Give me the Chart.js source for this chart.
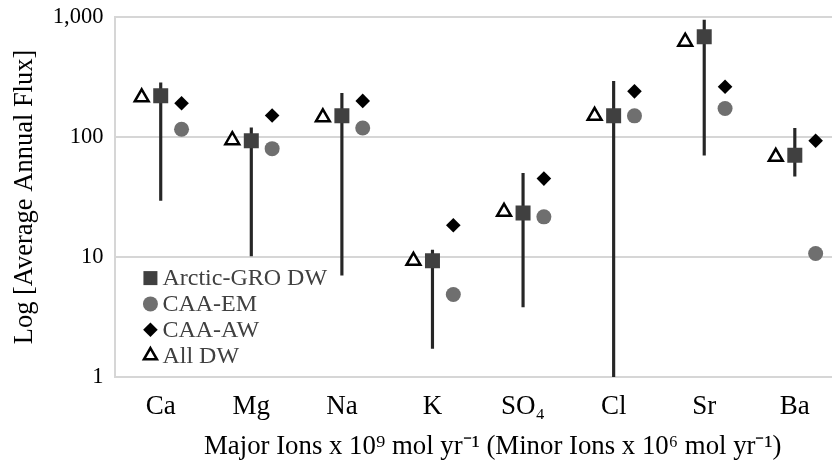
<!DOCTYPE html>
<html>
<head>
<meta charset="utf-8">
<script src="https://cdn.jsdelivr.net/npm/chart.js@4/dist/chart.umd.min.js"></script>
<style>
  html, body { margin: 0; padding: 0; background: #fff; overflow: hidden; }
  /* the plot runs past the right edge of the picture, so the canvas is wider than the window */
  #wrap { width: 870px; height: 463px; }
</style>
</head>
<body>
<div id="wrap"><canvas id="fluxChart"></canvas></div>
<script>
// Categories and values
const categories = ['Ca', 'Mg', 'Na', 'K', 'SO\u2084', 'Cl', 'Sr', 'Ba'];
const arcticGroDW = [221, 93, 150, 9.3, 23.3, 150, 685, 70.6];
const arcticGroLow = [29.6, 10.2, 7.05, 1.73, 3.84, 1, 70.6, 47.2];
const arcticGroHigh = [283, 119, 231, 11.4, 49.7, 291, 944, 118];
const caaEM = [116, 80, 119, 4.87, 21.6, 150, 173, 10.7];
const caaAW = [191, 151, 200, 18.4, 45, 240, 262, 93];
const allDW = [214, 94, 146, 9.3, 23.8, 150, 622, 68.4];
const yTicks = [1, 10, 100, 1000];

// horizontal shift of the side markers inside a category (in category units)
const leftShift = -0.21;
const rightShift = 0.23;

const serif = "'Liberation Serif', 'Times New Roman', serif";

function points(values, shift) {
    return values.map((v, i) => ({ x: i + shift, y: v }));
}

// legend drawn inside the plot, bottom-left corner
const innerLegend = {
    id: 'innerLegend',
    afterDatasetsDraw(chart) {
        const c = chart.ctx;
        const area = chart.chartArea;
        const items = chart.data.datasets.filter(d => d.type !== 'bar');
        const rowGap = 25.8;
        const markX = area.left + 35;
        let y = area.bottom - 21.5 - rowGap * (items.length - 1);
        c.save();
        c.font = '24px ' + serif;
        c.textBaseline = 'middle';
        c.textAlign = 'left';
        items.forEach(d => {
            c.fillStyle = d.backgroundColor;
            c.strokeStyle = d.borderColor;
            c.lineWidth = d.borderWidth;
            Chart.helpers.drawPoint(c, {
                pointStyle: d.pointStyle,
                radius: d.legendRadius,
                borderWidth: d.borderWidth,
                rotation: 0
            }, markX, y);
            c.fillStyle = '#404040';
            c.fillText(d.label, markX + 12, y + 1);
            y += rowGap;
        });
        c.restore();
    }
};

const ctx = document.getElementById('fluxChart').getContext('2d');

new Chart(ctx, {
    type: 'scatter',
    data: {
        datasets: [
            {
                label: 'Arctic-GRO DW',
                data: points(arcticGroDW, 0),
                pointStyle: 'rect',
                pointRadius: 10.6,
                legendRadius: 9.9,
                backgroundColor: '#404040',
                borderColor: '#404040',
                borderWidth: 0,
                order: 0
            },
            {
                label: 'CAA-EM',
                data: points(caaEM, rightShift),
                pointStyle: 'circle',
                pointRadius: 7.5,
                legendRadius: 7.5,
                backgroundColor: '#6f6f6f',
                borderColor: '#6f6f6f',
                borderWidth: 0,
                order: 0
            },
            {
                label: 'CAA-AW',
                data: points(caaAW, rightShift),
                pointStyle: 'rectRot',
                pointRadius: 7.3,
                legendRadius: 7.3,
                backgroundColor: '#000',
                borderColor: '#000',
                borderWidth: 0,
                order: 0
            },
            {
                label: 'All DW',
                data: points(allDW, leftShift),
                pointStyle: 'triangle',
                pointRadius: 8,
                legendRadius: 7.5,
                backgroundColor: '#fff',
                borderColor: '#000',
                borderWidth: 2.5,
                order: 0
            },
            {
                // range bars of the Arctic-GRO values
                type: 'bar',
                label: 'range',
                data: arcticGroDW.map((v, i) => ({ x: i, y: [arcticGroLow[i], arcticGroHigh[i]] })),
                backgroundColor: '#262626',
                borderWidth: 0,
                barThickness: 2.5,
                order: 1
            }
        ]
    },
    options: {
        responsive: true,
        maintainAspectRatio: false,
        animation: false,
        layout: {
            autoPadding: false,
            padding: { left: 9, top: 17, right: 0, bottom: 0 }
        },
        scales: {
            x: {
                type: 'linear',
                min: -0.5,
                max: 7.83,
                offset: false,
                afterBuildTicks: (scale) => {
                    scale.ticks = categories.map((c, i) => ({ value: i }));
                },
                afterFit: (scale) => {
                    scale.height = 86;
                },
                ticks: {
                    autoSkip: false,
                    maxRotation: 0,
                    padding: 14,
                    color: '#000',
                    font: { family: serif, size: 27 },
                    callback: (v) => categories[v]
                },
                grid: { display: false, drawTicks: false, offset: false },
                border: { display: false },
                title: {
                    display: true,
                    text: 'Major Ions x 10\u2079 mol yr\u207B\u00B9 (Minor Ions x 10\u2076 mol yr\u207B\u00B9)',
                    color: '#000',
                    font: { family: serif, size: 26.8 },
                    padding: { top: 6, bottom: 0 }
                }
            },
            y: {
                type: 'logarithmic',
                min: 1,
                max: 1000,
                afterBuildTicks: (scale) => {
                    scale.ticks = yTicks.map(v => ({ value: v }));
                },
                // tick labels may hang over the plot edges, no extra room for them
                afterFit: (scale) => {
                    scale.paddingTop = 0;
                    scale.paddingBottom = 0;
                },
                ticks: {
                    padding: 12,
                    color: '#000',
                    font: { family: serif, size: 22.5 },
                    callback: (v) => v.toLocaleString('en-US')
                },
                grid: { color: '#d6d6d6', lineWidth: 2, drawTicks: false },
                border: { display: true, color: '#d6d6d6', width: 2 },
                title: {
                    display: true,
                    text: 'Log [Average Annual Flux]',
                    color: '#000',
                    font: { family: serif, size: 26.5 },
                    padding: { top: 0, bottom: 0 }
                }
            }
        },
        plugins: {
            legend: { display: false },
            tooltip: { enabled: false }
        }
    },
    plugins: [innerLegend]
});
</script>
</body>
</html>
